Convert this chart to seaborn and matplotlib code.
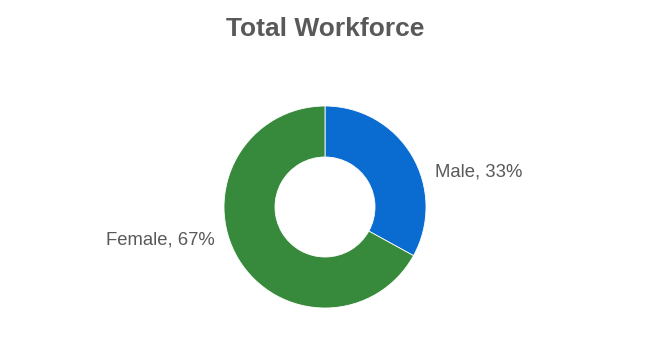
import seaborn as sns
import matplotlib.pyplot as plt

# Data: workforce split by gender
categories = ["Male", "Female"]
shares = [33, 67]
colors = ["#0a6cd1", "#378a3b"]

sns.set_theme(style="white")
plt.rcParams['font.family'] = ['Liberation Sans', 'DejaVu Sans']

fig = plt.figure(figsize=(6.5, 3.54), dpi=100)
ax = fig.add_axes([0, 0, 1, 1])

# Donut chart, starting at 12 o'clock and going clockwise
# (y axis is inverted below, so the angles are mirrored)
ax.pie(shares, colors=colors, startangle=-90, counterclock=True,
       center=(325, 207), radius=101, frame=True,
       wedgeprops=dict(width=51, edgecolor='white', linewidth=0.6))
ax.set_xlim(0, 650)
ax.set_ylim(354, 0)
ax.set_aspect('equal')
ax.axis('off')

# Labels
ax.text(435, 172, f"{categories[0]}, {shares[0]}%", ha='left', va='center',
        fontsize=13.3, color='#595959')
ax.text(215, 240, f"{categories[1]}, {shares[1]}%", ha='right', va='center',
        fontsize=13.3, color='#595959')

# Title
ax.text(325, 29, "Total Workforce", ha='center', va='center',
        fontsize=19, fontweight='bold', color='#595959')

plt.savefig("out.png", dpi=100)
